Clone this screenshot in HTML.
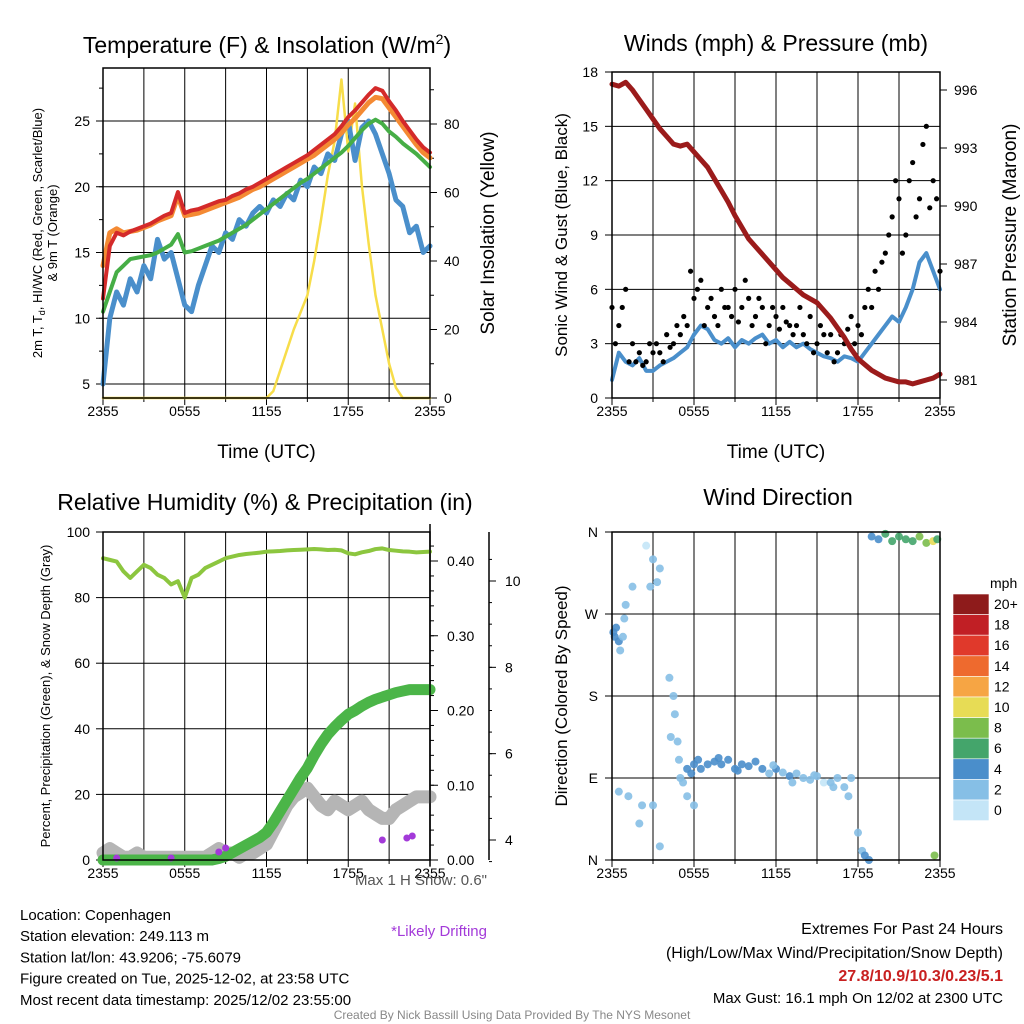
<!DOCTYPE html>
<html><head><meta charset="utf-8"><style>
body{margin:0;background:#fff}
svg{display:block;font-family:"Liberation Sans",sans-serif}
</style></head><body>
<svg id="c" width="1024" height="1024" viewBox="0 0 1024 1024"></svg>
<script>
const hours=[0,0.5,1,1.5,2,2.5,3,3.5,4,4.5,5,5.5,6,6.5,7,7.5,8,8.5,9,9.5,10,10.5,11,11.5,12,12.5,13,13.5,14,14.5,15,15.5,16,16.5,17,17.5,18,18.5,19,19.5,20,20.5,21,21.5,22,22.5,23,23.5,24];
const xTicks=["2355","0555","1155","1755","2355"];
const tempRed=[11.5,15.5,16.5,16.3,16.6,16.8,17,17.2,17.5,17.8,18,19.6,18,18.2,18.3,18.5,18.7,18.9,19,19.3,19.5,19.8,20,20.3,20.6,20.9,21.2,21.5,21.8,22.1,22.4,22.8,23.2,23.6,24,24.6,25.3,25.8,26.4,27,27.5,27.3,26.5,25.8,25,24.3,23.6,23,22.6];
const tempOrange=[14,16.5,16.8,16.5,16.6,16.7,16.9,17.1,17.4,17.6,17.8,19.3,17.8,17.9,18,18.2,18.4,18.6,18.8,19,19.2,19.5,19.8,20,20.3,20.6,20.9,21.2,21.5,21.8,22.1,22.4,22.8,23.2,23.6,24.1,24.7,25.2,25.8,26.4,26.8,26.7,26,25.3,24.6,23.9,23.2,22.6,22.2];
const tempGreen=[10.5,12,13.5,14,14.5,14.6,14.7,14.8,15,15.3,15.6,16.4,15,15.1,15.3,15.5,15.7,15.9,16.2,16.5,16.8,17.1,17.5,17.9,18.3,18.7,19.1,19.5,19.9,20.3,20.6,21,21.4,21.8,22.2,22.6,23.1,23.7,24.3,24.8,25.1,24.8,24.2,23.8,23.3,22.9,22.5,22,21.5];
const tempBlue=[5,10,12,11,13,12,14,13,16,14.5,15,13,11,10.5,12.5,14,15.5,15,16.5,16,17.5,17,18,18.5,18,19,18.5,19.5,19,20.5,20,21.5,21,22.5,22,24,25,22,24.5,25,24,22.5,21,19,18.5,16.5,17,15,15.5];
const insol=[0,0,0,0,0,0,0,0,0,0,0,0,0,0,0,0,0,0,0,0,0,0,0,0,0,2,8,14,20,25,30,40,52,65,75,93,72,86,62,45,30,20,10,3,0,0,0,0,0];
const windSpd=[1,2.5,2,1.8,2.2,1.5,1.5,1.8,2,2.2,2.5,2.8,3.5,4,3.8,3.2,3,3.3,2.8,3.2,3,3.3,3.5,3,3.2,2.8,3.1,2.8,3,2.7,2.5,2.3,2.2,2,2.3,2.2,2,2.5,3,3.5,4,4.5,4.2,5,6,7.5,8,7,6];
const gustA=[5,4,6,3,2.5,2,2.5,2.5,3.5,3,3.5,4,5.5,6.5,5,4.5,6,5,6,5,5.5,4.5,5,4,4.5,5,4,4,3.5,4.5,3,3.5,3.5,2.5,3,4.5,4,5,5,6,8,10,11,9,13,11,15,12,7];
const gustB=[3,5,2,2,1.8,3,3,2,2.8,4,4.5,7,6,4,5.5,4,5,4.5,4.2,6.5,4,5.5,3,5,3.8,4.2,3.5,5,3,2.5,4,2.5,2,3.5,3.8,3,3.5,6,7,7.5,9,12,8,12,10,14,10.5,11];
const pressure=[996.3,996.2,996.4,996,995.5,995,994.5,994,993.6,993.2,993.1,993.2,992.8,992.4,992,991.4,990.8,990.2,989.5,988.9,988.3,987.9,987.5,987.1,986.7,986.3,986,985.7,985.4,985.2,985,984.6,984.2,983.7,983.2,982.6,982.1,981.8,981.5,981.3,981.1,981,980.9,980.9,980.8,980.9,981,981.1,981.3];
const rh=[92,91.5,91,88,86,88,90,89,87,86,84,85,80,86,87,89,90,91,92,92.5,93,93.3,93.5,93.7,94,94.1,94.2,94.4,94.5,94.6,94.7,94.8,94.7,94.5,94.6,94.4,93.5,93.2,93.8,94.2,94.8,95,94.5,94.3,94.1,94,93.8,93.9,94];
const precip=[0,0,0,0,0,0,0,0,0,0,0,0,0,0,0,0,0,0.002,0.005,0.01,0.015,0.02,0.025,0.03,0.037,0.05,0.065,0.08,0.095,0.11,0.123,0.14,0.155,0.168,0.178,0.187,0.195,0.2,0.206,0.211,0.215,0.218,0.221,0.224,0.226,0.228,0.228,0.228,0.228];
const snow=[3.7,3.8,3.7,3.6,3.6,3.7,3.6,3.6,3.6,3.6,3.6,3.6,3.6,3.6,3.6,3.6,3.7,3.8,3.7,3.7,3.6,3.7,3.7,3.8,3.9,4.2,4.5,4.8,5.0,5.1,5.2,5.0,4.8,4.7,4.9,4.8,4.7,4.8,4.9,4.7,4.6,4.5,4.5,4.7,4.8,4.9,5.0,5.0,5.0];
const dirHour=[0.1,0.2,0.3,0.5,0.6,0.8,0.9,1,1.5,2.5,3,3.5,2.8,3.3,4.2,4.5,4.6,4.8,4.9,5,5.2,5.5,5.8,6,6.3,6.5,7,7.5,8,8.5,9,9.5,10,10.5,11,11.5,12,12.5,13,13.5,14,14.5,15,15.5,16,16.5,17,17.3,17.5,18,18.3,18.5,18.8,19,19.5,20,20.5,21,21.5,22,22.5,23,23.5,23.6,23.8,2,2.2,3,1.2,3.5,4.3,5.5,6,0.5,13.2,14.8,16.2,9.2,7.8,11.8];
const dirDeg=[250,245,255,240,230,245,265,280,300,345,330,320,300,305,200,180,160,130,110,90,85,100,95,105,110,100,105,108,105,110,100,105,103,108,100,95,100,96,92,95,90,88,92,85,85,90,80,70,90,30,10,5,0,355,352,358,350,355,352,350,355,348,350,5,352,40,60,60,70,15,135,70,60,75,85,93,80,98,112,104];
const dirSpd=[4,4,4,4,2,2,2,2,2,0,2,2,1,1,2,2,2,2,2,2,2,4,4,4,4,4,4,4,4,4,4,4,4,4,4,2,4,2,4,2,2,2,2,0,2,2,2,2,2,2,2,4,4,4,4,6,6,6,6,6,8,8,10,8,6,2,2,2,2,1,2,2,2,2,2,2,2,4,4,2];
const cbLabels=["20+","18","16","14","12","10","8","6","4","2","0"];
const cbColors=["#8e1b1b","#c11f25","#e0392b","#ee6a2e","#f6a544","#e7dc55","#7bbd4c","#44a56b","#4a8ecb","#86bfe6","#c4e5f7"];

const svg=document.getElementById('c');const NS="http://www.w3.org/2000/svg";
function el(t,a,p){const e=document.createElementNS(NS,t);for(const k in a)e.setAttribute(k,a[k]);(p||svg).appendChild(e);return e;}
function txt(x,y,s,a,name){const e=el('text',Object.assign({x:x,y:y,'font-size':14,fill:'#000'},a||{}));e.textContent=s;

return e;}
function lin(a,b,c,d){return v=>c+(v-a)*(d-c)/(b-a);}
function poly(xs,ys,col,w,name){const e=el('polyline',{points:xs.map((x,i)=>x+','+ys[i]).join(' '),fill:'none',stroke:col,'stroke-width':w,'stroke-linejoin':'round','stroke-linecap':'round'});

return e;}
function frame(x0,x1,y0,y1,name){
  const g=el('g',{});
  return g;}
function xaxis(X,y0,y1,g,label){
  for(let h=0;h<=24;h+=3){el('line',{x1:X(h),x2:X(h),y1:y0,y2:y1,stroke:'#000','stroke-width':1},g);el('line',{x1:X(h),x2:X(h),y1:y1,y2:y1+(h%6?4:7),stroke:'#000'},g);}
  xTicks.forEach((t,i)=>txt(X(i*6),y1+18,t,{'text-anchor':'middle','font-size':14},'x-tick-label'));
  if(label)txt((X(0)+X(24))/2,y1+60,label,{'text-anchor':'middle','font-size':19},'x-axis-title');
}
// ---------- Panel 1
{const X=lin(0,24,103,430),Y=lin(5,25,384,121),YR=lin(0,80,398,124);
 const g=frame(103,430,68,398,'temperature-panel');
 xaxis(X,68,398,g,'Time (UTC)');
 [5,10,15,20,25].forEach(v=>{el('line',{x1:103,x2:430,y1:Y(v),y2:Y(v),stroke:'#000'});el('line',{x1:96,x2:103,y1:Y(v),y2:Y(v),stroke:'#000'});txt(90,Y(v)+5,v,{'text-anchor':'end','font-size':14},'y-tick-label');});
 for(let v=5;v<=28;v+=2.5)el('line',{x1:99,x2:103,y1:Y(v),y2:Y(v),stroke:'#000'});
 [0,20,40,60,80].forEach(v=>{el('line',{x1:430,x2:437,y1:YR(v),y2:YR(v),stroke:'#000'});txt(444,YR(v)+5,v,{'font-size':14},'right-tick-label');});
 for(let v=10;v<=90;v+=20)el('line',{x1:430,x2:434,y1:YR(v),y2:YR(v),stroke:'#000'});
 const xs=hours.map(X);
 poly(xs,insol.map(YR),'#f7dd4a',2.5,'insolation-line');
 poly(xs,tempBlue.map(Y),'#4a8fcb',5,'dewpoint-line');
 poly(xs,tempGreen.map(Y),'#46ae46',4,'heat-index-line');
 poly(xs,tempOrange.map(Y),'#f48a33',5,'9m-temp-line');
 poly(xs,tempRed.map(Y),'#d42a2a',4,'2m-temp-line');
 el('rect',{x:103,y:68,width:327,height:330,fill:'none',stroke:'#000','stroke-width':1.5});
 const t=txt(267,53,'Temperature (F) & Insolation (W/m',{'text-anchor':'middle','font-size':23},'chart-title');const ts=el('tspan',{dy:-9,'font-size':14},t);ts.textContent='2';const ts2=el('tspan',{dy:9},t);ts2.textContent=')';
 const a=txt(0,0,'2m T, T',{'font-size':13,transform:'translate(42,233) rotate(-90)','text-anchor':'middle'},'y-axis-title');
 const s1=el('tspan',{dy:3,'font-size':9},a);s1.textContent='d';const s2=el('tspan',{dy:-3},a);s2.textContent=', HI/WC (Red, Green, Scarlet/Blue)';
 txt(0,0,'& 9m T (Orange)',{'font-size':13,transform:'translate(57,233) rotate(-90)','text-anchor':'middle'},'y-axis-title-2');
 txt(0,0,'Solar Insolation (Yellow)',{'font-size':19,transform:'translate(494,233) rotate(-90)','text-anchor':'middle'},'right-axis-title');
}
// ---------- Panel 2
{const X=lin(0,24,612,940),Y=lin(0,18,398,72),YP=lin(981,996,380,90);
 const g=frame(612,940,72,398,'wind-panel');
 xaxis(X,72,398,g,'Time (UTC)');
 [0,3,6,9,12,15,18].forEach(v=>{el('line',{x1:612,x2:940,y1:Y(v),y2:Y(v),stroke:'#000'});el('line',{x1:605,x2:612,y1:Y(v),y2:Y(v),stroke:'#000'});txt(598,Y(v)+5,v,{'text-anchor':'end'},'y-tick-label');});
 [981,984,987,990,993,996].forEach(v=>{el('line',{x1:940,x2:947,y1:YP(v),y2:YP(v),stroke:'#000'});txt(954,YP(v)+5,v,{},'right-tick-label');});
 poly(hours.map(X),windSpd.map(Y),'#4a8fcb',4,'wind-speed-line');
 hours.forEach((h,i)=>{const c=el('circle',{cx:X(h),cy:Y(gustA[i]),r:2.6,fill:'#000'});});
 gustB.forEach((v,i)=>{const c=el('circle',{cx:X(hours[i]+0.25),cy:Y(v),r:2.6,fill:'#000'});});
 poly(hours.map(X),pressure.map(YP),'#9b1b1b',5,'pressure-line');
 el('rect',{x:612,y:72,width:328,height:326,fill:'none',stroke:'#000','stroke-width':1.5});
 txt(776,51,'Winds (mph) & Pressure (mb)',{'text-anchor':'middle','font-size':23},'chart-title');
 txt(0,0,'Sonic Wind & Gust (Blue, Black)',{'font-size':17,transform:'translate(567,235) rotate(-90)','text-anchor':'middle'},'y-axis-title');
 txt(0,0,'Station Pressure (Maroon)',{'font-size':19,transform:'translate(1016,235) rotate(-90)','text-anchor':'middle'},'right-axis-title');
}
// ---------- Panel 3
{const X=lin(0,24,103,430),Y=lin(0,100,860,532),YP=lin(0,0.4,860,561),YS=lin(4,10,840,581);
 const g=frame(103,430,532,860,'humidity-panel');
 xaxis(X,532,860,g,null);
 [0,20,40,60,80,100].forEach(v=>{el('line',{x1:103,x2:430,y1:Y(v),y2:Y(v),stroke:'#000'});el('line',{x1:96,x2:103,y1:Y(v),y2:Y(v),stroke:'#000'});txt(90,Y(v)+5,v,{'text-anchor':'end'},'y-tick-label');});
 el('line',{x1:430,x2:430,y1:524,y2:866,stroke:'#000','stroke-width':1.5});
 [0,0.1,0.2,0.3,0.4].forEach(v=>{el('line',{x1:430,x2:438,y1:YP(v),y2:YP(v),stroke:'#000'});txt(447,YP(v)+5,v.toFixed(2),{},'precip-tick-label');});
 for(let v=0.02;v<0.44;v+=0.02)el('line',{x1:430,x2:434,y1:YP(v),y2:YP(v),stroke:'#000'});
 el('line',{x1:489,x2:489,y1:532,y2:860,stroke:'#000','stroke-width':1.5});
 [4,6,8,10].forEach(v=>{el('line',{x1:489,x2:496,y1:YS(v),y2:YS(v),stroke:'#000'});txt(505,YS(v)+5,v,{},'snow-tick-label');});
 for(let v=3.5;v<10.8;v+=0.5)el('line',{x1:489,x2:492,y1:YS(v),y2:YS(v),stroke:'#000'});
 const xs=hours.map(X);
 poly(xs,snow.map(v=>Math.min(YS(v),858)),'#b5b5b5',13,'snow-depth-line');
 poly(xs,precip.map(YP),'#4bb548',11,'precip-line');
 poly(xs,rh.map(Y),'#8cc63f',4,'rh-line');
 [[1,858],[5,858],[8.5,852],[9,848],[20.5,840],[22.3,838],[22.7,836]].forEach(p=>{const c=el('circle',{cx:X(p[0]),cy:p[1],r:3.5,fill:'#a33ad9'});});
 el('rect',{x:103,y:532,width:327,height:328,fill:'none',stroke:'#000','stroke-width':1.5});
 txt(265,510,'Relative Humidity (%) & Precipitation (in)',{'text-anchor':'middle','font-size':23},'chart-title');
 txt(0,0,'Percent, Precipitation (Green), & Snow Depth (Gray)',{'font-size':13,transform:'translate(50,696) rotate(-90)','text-anchor':'middle'},'y-axis-title');
 txt(487,885,'Max 1 H Snow: 0.6"',{'text-anchor':'end','font-size':15,fill:'#555'},'max-snow-note');
 txt(487,936,'*Likely Drifting',{'text-anchor':'end','font-size':15,fill:'#a33ad9'},'drifting-note');
}
// ---------- Panel 4
{const X=lin(0,24,612,940),Y=lin(0,360,860,532);
 const g=frame(612,940,532,860,'direction-panel');
 xaxis(X,532,860,g,null);
 ['N','E','S','W','N'].forEach((l,i)=>{const y=Y(i*90);el('line',{x1:612,x2:940,y1:y,y2:y,stroke:'#000'});el('line',{x1:605,x2:612,y1:y,y2:y,stroke:'#000'});txt(598,y+5,l,{'text-anchor':'end'},'direction-tick-label');});
 dirHour.forEach((h,i)=>{const idx=Math.min(10,Math.round(dirSpd[i]/2));const c=el('circle',{cx:X(h),cy:Y(dirDeg[i]),r:4,fill:cbColors[10-idx],opacity:0.9});});
 el('rect',{x:612,y:532,width:328,height:328,fill:'none',stroke:'#000','stroke-width':1.5});
 txt(778,505,'Wind Direction',{'text-anchor':'middle','font-size':23},'chart-title');
 txt(0,0,'Direction (Colored By Speed)',{'font-size':17,transform:'translate(567,696) rotate(-90)','text-anchor':'middle'},'y-axis-title');
 txt(990,588,'mph',{'font-size':14},'colorbar-title');
 cbColors.forEach((c,i)=>{const r=el('rect',{x:953,y:594+i*20.6,width:36,height:20.6,fill:c,stroke:'#fff','stroke-width':0.6});
  txt(994,609+i*20.6,cbLabels[i],{'font-size':14},'colorbar-label');});
}
// ---------- footer text
['Location: Copenhagen','Station elevation: 249.113 m','Station lat/lon: 43.9206; -75.6079','Figure created on Tue, 2025-12-02, at 23:58 UTC','Most recent data timestamp: 2025/12/02 23:55:00'].forEach((s,i)=>txt(20,920+i*21.2,s,{'font-size':15},'station-info'));
txt(1003,934,'Extremes For Past 24 Hours',{'text-anchor':'end','font-size':16},'extremes-title');
txt(1003,958,'(High/Low/Max Wind/Precipitation/Snow Depth)',{'text-anchor':'end','font-size':16},'extremes-subtitle');
txt(1003,981,'27.8/10.9/10.3/0.23/5.1',{'text-anchor':'end','font-size':16,'font-weight':'bold',fill:'#c82020'},'extremes-values');
txt(1003,1003,'Max Gust: 16.1 mph On 12/02 at 2300 UTC',{'text-anchor':'end','font-size':15},'max-gust');
txt(512,1019,'Created By Nick Bassill Using Data Provided By The NYS Mesonet',{'text-anchor':'middle','font-size':12,fill:'#888'},'credit');
</script>
</body></html>
